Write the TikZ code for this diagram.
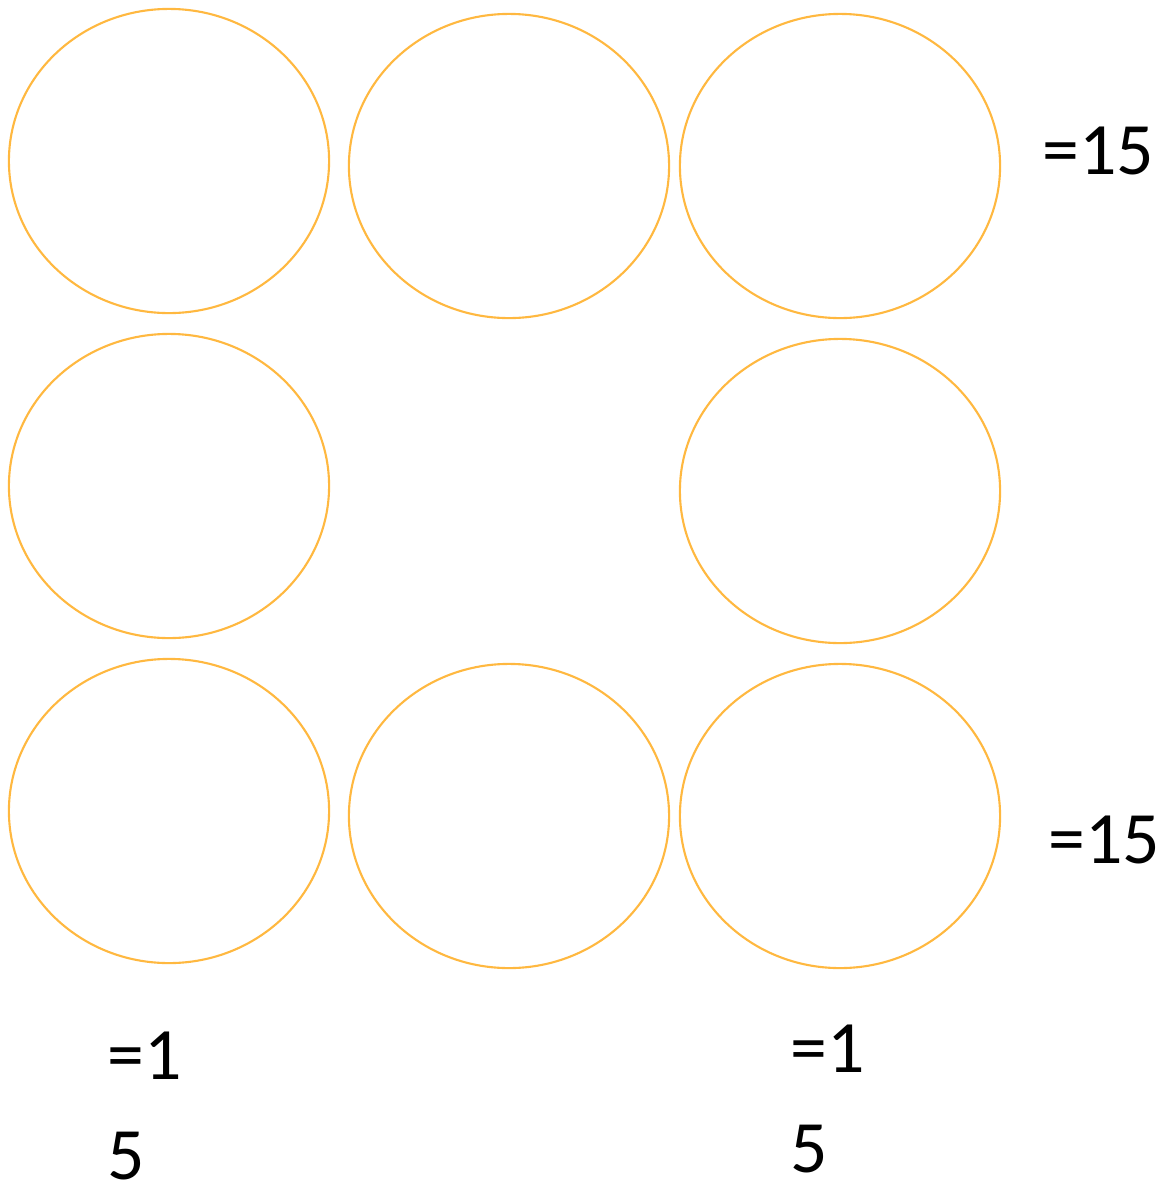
\documentclass[tikz,border=0pt]{standalone}
\usepackage{fontspec}
\setmainfont{Carlito}
\usepackage{tikz}
\usetikzlibrary{positioning}
\definecolor{ringorange}{RGB}{255,184,64}

\begin{document}
\begin{tikzpicture}[x=0.01cm, y=-0.01cm,
    ring/.style={draw=ringorange, line width=0.6pt},
    sumlabel/.style={anchor=base west, inner sep=0pt, align=left, text depth=0pt,
      font=\fontsize{21}{28.4}\selectfont}]
        \useasboundingbox (0,0) rectangle (1166,1187);
        \foreach \cx/\cy in {169/161, 509/166, 840/166, 169/486, 840/491, 169/811, 509/816, 840/816}
          \draw[ring] (\cx,\cy) ellipse [x radius=1.6cm, y radius=1.52cm];
        \node[sumlabel] (rowtop) at (1042,174) {=15};
        \node[sumlabel] (rowbottom) at (1048,863) {=15};
        \node[sumlabel] (colleft) at (107,1179) {=1\\5};
        \node[sumlabel] (colright) at (790,1172) {=1\\5};
      \end{tikzpicture}
\end{document}
